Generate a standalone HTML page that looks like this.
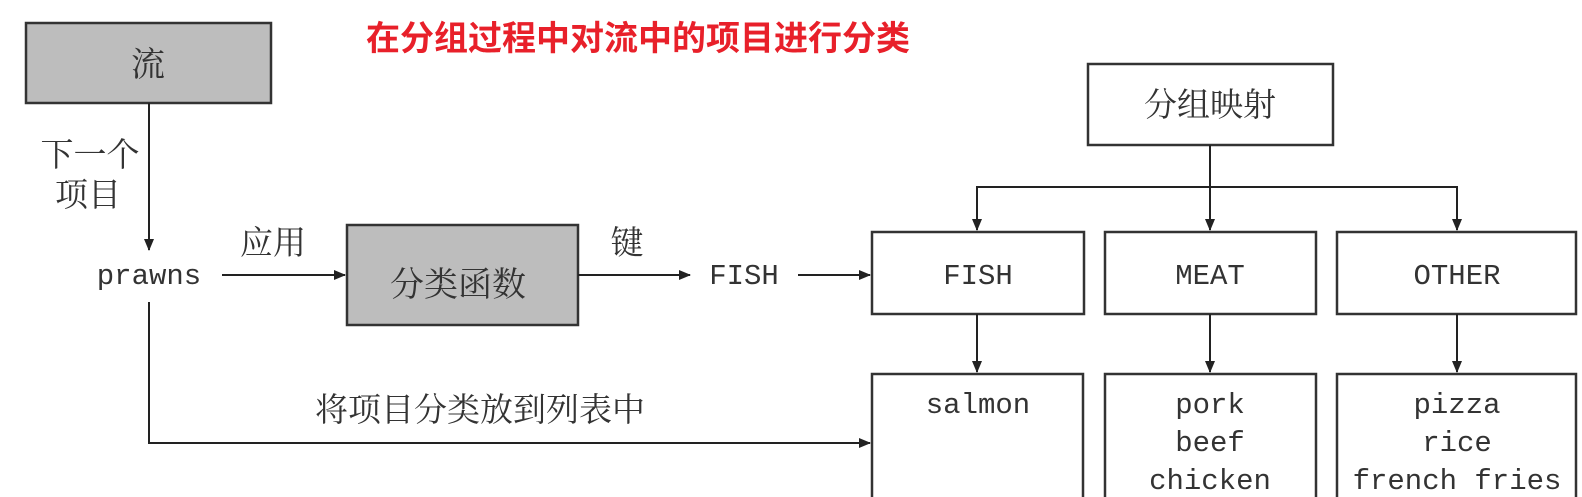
<!DOCTYPE html>
<html><head><meta charset="utf-8"><style>
html,body{margin:0;padding:0;background:#fff;}
svg{display:block;}
.cj{font-family:"Liberation Serif","Noto Serif CJK SC",serif;fill:#333;}
.mo{font-family:"Liberation Mono",monospace;fill:#333;font-size:29px;}
</style></head><body>
<svg width="1582" height="497" viewBox="0 0 1582 497" xmlns="http://www.w3.org/2000/svg">
<defs><marker id="a" markerWidth="12" markerHeight="10" refX="11" refY="5" orient="auto" markerUnits="userSpaceOnUse"><path d="M0,0 L12,5 L0,10 Z" fill="#222"/></marker></defs>
<g stroke="#333" stroke-width="2.5" fill="none">
<rect x="26" y="23" width="245" height="80" fill="#bdbdbd"/>
<rect x="347" y="225" width="231" height="100" fill="#bdbdbd"/>
<rect x="1088" y="64" width="245" height="81" fill="#fff"/>
<rect x="872" y="232" width="212" height="82"/>
<rect x="1105" y="232" width="211" height="82"/>
<rect x="1337" y="232" width="239" height="82"/>
<rect x="872" y="374" width="211" height="140"/>
<rect x="1105" y="374" width="211" height="140"/>
<rect x="1337" y="374" width="239" height="140"/>
</g>
<g stroke="#222" stroke-width="2" fill="none" marker-end="url(#a)">
<line x1="149" y1="103" x2="149" y2="250"/>
<line x1="222" y1="275" x2="345" y2="275"/>
<line x1="578" y1="275" x2="690" y2="275"/>
<line x1="798" y1="275" x2="870" y2="275"/>
<polyline points="149,302 149,443 870,443"/>
<line x1="1210" y1="145" x2="1210" y2="230"/>
<polyline points="1210,187 977,187 977,230"/>
<polyline points="1210,187 1457,187 1457,230"/>
<line x1="977" y1="314" x2="977" y2="372"/>
<line x1="1210" y1="314" x2="1210" y2="372"/>
<line x1="1457" y1="314" x2="1457" y2="372"/>
</g>
<text x="638" y="50" text-anchor="middle" font-family="'Liberation Sans','Noto Sans CJK SC',sans-serif" font-weight="bold" font-size="34" fill="#e8202a">在分组过程中对流中的项目进行分类</text>
<text class="cj" x="148" y="76" text-anchor="middle" font-size="34">流</text>
<text class="cj" x="90" y="166" text-anchor="middle" font-size="33">下一个</text>
<text class="cj" x="88" y="206" text-anchor="middle" font-size="33">项目</text>
<text class="cj" x="273" y="254" text-anchor="middle" font-size="33">应用</text>
<text class="cj" x="458" y="296" text-anchor="middle" font-size="34">分类函数</text>
<text class="cj" x="627" y="254" text-anchor="middle" font-size="33">键</text>
<text class="cj" x="480" y="421" text-anchor="middle" font-size="33">将项目分类放到列表中</text>
<text class="cj" x="1210" y="116" text-anchor="middle" font-size="33">分组映射</text>
<text class="mo" x="149" y="284" text-anchor="middle">prawns</text>
<text class="mo" x="744" y="284" text-anchor="middle">FISH</text>
<text class="mo" x="978" y="284" text-anchor="middle">FISH</text>
<text class="mo" x="1210" y="284" text-anchor="middle">MEAT</text>
<text class="mo" x="1457" y="284" text-anchor="middle">OTHER</text>
<text class="mo" x="978" y="413" text-anchor="middle">salmon</text>
<text class="mo" x="1210" y="413" text-anchor="middle">pork</text>
<text class="mo" x="1210" y="451" text-anchor="middle">beef</text>
<text class="mo" x="1210" y="489" text-anchor="middle">chicken</text>
<text class="mo" x="1457" y="413" text-anchor="middle">pizza</text>
<text class="mo" x="1457" y="451" text-anchor="middle">rice</text>
<text class="mo" x="1457" y="489" text-anchor="middle">french fries</text>
</svg>
</body></html>
